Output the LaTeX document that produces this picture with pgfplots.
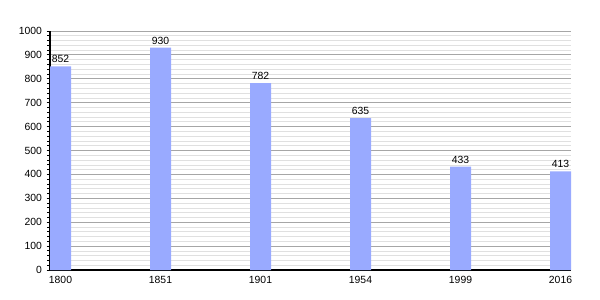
\documentclass[border=0pt]{standalone}
\usepackage{pgfplots}
\pgfplotsset{compat=1.18}
\usepackage{fontspec}
\setmainfont{Liberation Sans}
\definecolor{barc}{HTML}{99AAFF}
\begin{document}
\begin{tikzpicture}[x=1pt,y=1pt]
\path[use as bounding box] (0,0) rectangle (450,225);
\begin{axis}[
  at={(37.5pt,22.5pt)}, anchor=south west,
  scale only axis,
  width=390.75pt, height=179.25pt,
  xmin=-0.105, xmax=5.105,
  ymin=0, ymax=1000,
  axis x line*=bottom, axis y line*=left,
  axis line style={black, line width=0.8pt},
  xtick=data,
  xticklabels={1800,1851,1901,1954,1999,2016},
  x tick style={draw=none},
  x tick label style={yshift=1pt},
  ytick={0,100,...,1000},
  minor y tick num=4,
  tick align=outside,
  major tick length=2.5pt,
  minor tick length=2pt,
  y tick style={black, line width=0.6pt},
  ymajorgrids, yminorgrids,
  major grid style={draw=black!35, line width=0.6pt},
  minor grid style={draw=black!12, line width=0.5pt},
  tick label style={font=\fontsize{7.8}{9}\selectfont},
  /pgf/number format/assume math mode=true,
  /pgf/number format/1000 sep={},
  clip=false,
  ]
\addplot[ybar, bar width=0.21, fill=barc, draw=none,
  nodes near coords, every node near coord/.append style={font=\fontsize{7.8}{9}\selectfont, black, yshift=-1pt}]
  coordinates {(0,852) (1,930) (2,782) (3,635) (4,433) (5,413)};
\end{axis}
\end{tikzpicture}
\end{document}
